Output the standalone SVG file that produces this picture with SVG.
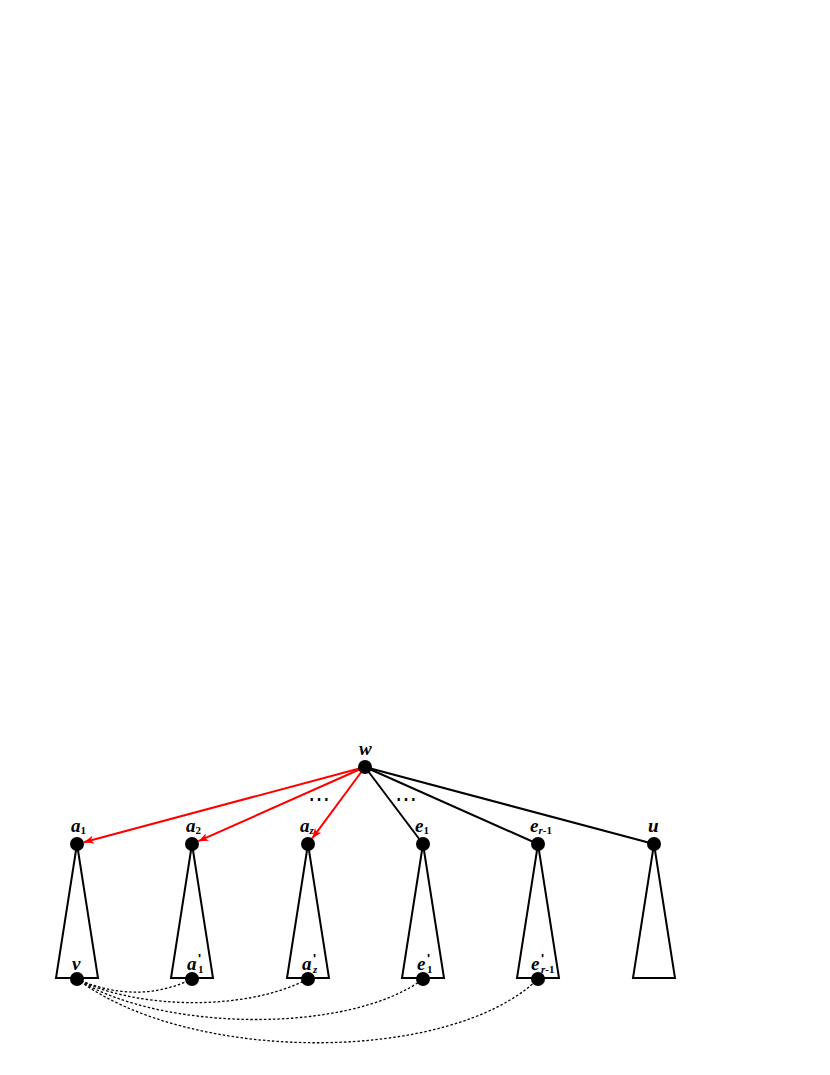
<svg xmlns="http://www.w3.org/2000/svg" width="830" height="1075" viewBox="0 0 830 1075">
<defs>
<marker id="ar" viewBox="0 0 10 8" refX="10" refY="4" markerWidth="10" markerHeight="8" markerUnits="userSpaceOnUse" orient="auto">
<path d="M0,0 L10,4 L0,8 L2.5,4 Z" fill="#ff0000"/>
</marker>
</defs>
<style>
.n{fill:#000}
.t{fill:none;stroke:#000;stroke-width:2;stroke-linejoin:miter}
.e{stroke:#000;stroke-width:2;fill:none}
.r{stroke:#ff0000;stroke-width:2;fill:none}
.d{stroke:#000;stroke-width:1.3;fill:none;stroke-dasharray:2.5,2}
.l{font-family:"Liberation Serif",serif;font-style:italic;font-weight:bold;font-size:19px;fill:#000}
.s{font-size:11px;font-style:normal}
.ss{font-size:11px}
.p{font-family:"Liberation Sans",sans-serif;font-style:normal;font-weight:bold;font-size:13px}
.dots{font-family:"Liberation Serif",serif;font-size:22px;fill:#000}
</style>
<rect width="830" height="1075" fill="#fff"/>
<g id="connectors">
<line class="r" x1="365" y1="767" x2="83.8" y2="842.2" marker-end="url(#ar)"/>
<line class="r" x1="365" y1="767" x2="198.4" y2="841.2" marker-end="url(#ar)"/>
<line class="r" x1="365" y1="767" x2="312.2" y2="838.4" marker-end="url(#ar)"/>
<line class="e" x1="365" y1="767" x2="423" y2="844"/>
<line class="e" x1="365" y1="767" x2="538" y2="844"/>
<line class="e" x1="365" y1="767" x2="654" y2="844"/>
<path class="d" d="M77,979 C115,996 155,997 192,979"/>
<path class="d" d="M77,979 C135,1009 245,1012 308,979"/>
<path class="d" d="M77,979 C160,1032 350,1034 423,979"/>
<path class="d" d="M77,979 C190,1064 450,1064 538,979"/>
</g>
<g id="tri-a1"><path class="t" d="M77,844 L98,978 L56,978 Z"/></g>
<g id="tri-a2"><path class="t" d="M192,844 L213,978 L171,978 Z"/></g>
<g id="tri-az"><path class="t" d="M308,844 L329,978 L287,978 Z"/></g>
<g id="tri-e1"><path class="t" d="M423,844 L444,978 L402,978 Z"/></g>
<g id="tri-er1"><path class="t" d="M538,844 L559,978 L517,978 Z"/></g>
<g id="tri-u"><path class="t" d="M654,844 L675,978 L633,978 Z"/></g>
<g id="node-w"><circle class="n" cx="365" cy="767" r="7"/><text class="l" x="359" y="755">w</text></g>
<g id="node-a1"><circle class="n" cx="77" cy="844" r="7"/><text class="l" x="71" y="832">a<tspan class="s" dy="2">1</tspan></text></g>
<g id="node-a2"><circle class="n" cx="192" cy="844" r="7"/><text class="l" x="186" y="832">a<tspan class="s" dy="2">2</tspan></text></g>
<g id="node-az"><circle class="n" cx="308" cy="844" r="7"/><text class="l" x="300" y="832">a<tspan class="ss" dy="2">z</tspan></text></g>
<g id="node-e1"><circle class="n" cx="423" cy="844" r="7"/><text class="l" x="415" y="832">e<tspan class="s" dy="2">1</tspan></text></g>
<g id="node-er1"><circle class="n" cx="538" cy="844" r="7"/><text class="l" x="530" y="832">e<tspan class="ss" dy="2">r</tspan><tspan class="s">-1</tspan></text></g>
<g id="node-u"><circle class="n" cx="654" cy="844" r="7"/><text class="l" x="648" y="832">u</text></g>
<text class="dots" x="308" y="806">⋯</text>
<text class="dots" x="395" y="806">⋯</text>
<g id="node-v"><circle class="n" cx="77" cy="979" r="7"/><text class="l" x="72" y="970">v</text></g>
<g id="node-a1p"><circle class="n" cx="192" cy="979" r="7"/><text class="l" x="187" y="970">a<tspan class="p" x="198" y="963">'</tspan><tspan class="s" x="198" y="973">1</tspan></text></g>
<g id="node-azp"><circle class="n" cx="308" cy="979" r="7"/><text class="l" x="302" y="970">a<tspan class="p" x="313" y="963">'</tspan><tspan class="ss" x="313" y="973">z</tspan></text></g>
<g id="node-e1p"><circle class="n" cx="423" cy="979" r="7"/><text class="l" x="417" y="970">e<tspan class="p" x="427" y="963">'</tspan><tspan class="s" x="427" y="973">1</tspan></text></g>
<g id="node-er1p"><circle class="n" cx="538" cy="979" r="7"/><text class="l" x="531" y="970">e<tspan class="p" x="541" y="963">'</tspan><tspan class="ss" x="541" y="973">r</tspan><tspan class="s">-1</tspan></text></g>
</svg>
